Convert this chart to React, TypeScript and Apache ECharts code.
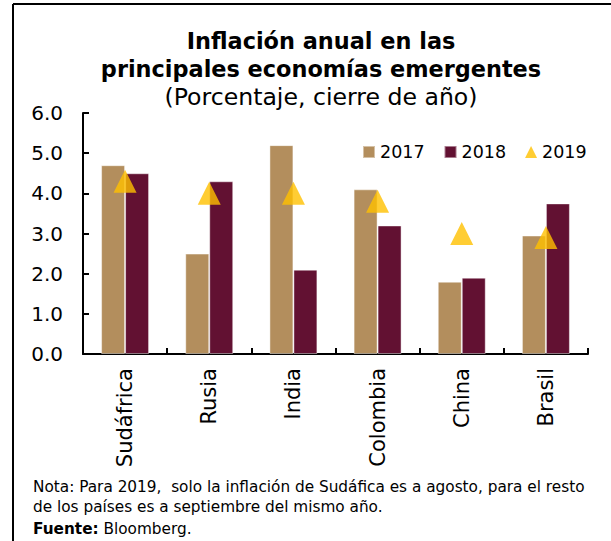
import React, { useEffect, useRef } from "react";
import * as echarts from "echarts";

const categories = ["Sudáfrica", "Rusia", "India", "Colombia", "China", "Brasil"];
const values2017 = [4.7, 2.5, 5.2, 4.1, 1.8, 2.95];
const values2018 = [4.5, 4.3, 2.1, 3.2, 1.9, 3.75];
const values2019 = [4.3, 4.0, 4.0, 3.8, 3.0, 2.9];
const seriesNames = ["2017", "2018", "2019"];
const titleText = "Inflación anual en las\nprincipales economías emergentes";
const subtitleText = "(Porcentaje, cierre de año)";
const noteLines = [
  "Nota: Para 2019,  solo la inflación de Sudáfica es a agosto, para el resto",
  "de los países es a septiembre del mismo año.",
];

const FONT = "DejaVu Sans";
const C2017 = "#B38E5D";
const C2018 = "#621132";
const C2019 = "#FFC000";

export default function App() {
  const ref = useRef<HTMLDivElement>(null);
  useEffect(() => {
    if (!ref.current) return;
    const chart = echarts.init(ref.current, undefined, { renderer: "svg" });
    chart.setOption({
      animation: false,
      backgroundColor: "#ffffff",
      textStyle: { fontFamily: FONT, color: "#000" },
      title: {
        text: titleText,
        subtext: subtitleText,
        left: 316,
        top: 22,
        textAlign: "center",
        itemGap: 0,
        textStyle: { fontFamily: FONT, fontSize: 22.4, fontWeight: "bold", color: "#000", lineHeight: 28 },
        subtextStyle: { fontFamily: FONT, fontSize: 23.6, color: "#000", lineHeight: 28 },
      },
      legend: {
        left: 357,
        top: 138,
        itemWidth: 12,
        itemHeight: 12,
        itemGap: 19,
        textStyle: { fontFamily: FONT, fontSize: 17.5, color: "#000", padding: [0, 0, 0, 0] },
        data: [
          { name: seriesNames[0], icon: "rect" },
          { name: seriesNames[1], icon: "rect" },
          { name: seriesNames[2], icon: "triangle" },
        ],
      },
      grid: { left: 83, right: 23, top: 113, bottom: 187, containLabel: false },
      xAxis: {
        type: "category",
        data: categories,
        axisLine: { lineStyle: { color: "#000", width: 2 } },
        axisTick: { show: true, inside: true, length: 6, lineStyle: { color: "#000", width: 2 } },
        axisLabel: { rotate: 90, fontSize: 21, color: "#000", fontFamily: FONT, margin: 14 },
      },
      yAxis: {
        type: "value",
        min: 0,
        max: 6,
        interval: 1,
        axisLine: { show: true, lineStyle: { color: "#000", width: 2 } },
        axisTick: { show: true, inside: true, length: 6, lineStyle: { color: "#000", width: 2 } },
        splitLine: { show: false },
        axisLabel: {
          fontSize: 20,
          color: "#000",
          fontFamily: FONT,
          margin: 20,
          formatter: (v: number) => v.toFixed(1),
        },
      },
      series: [
        {
          name: seriesNames[0],
          type: "bar",
          data: values2017,
          barGap: "0%",
          barCategoryGap: "43%",
          itemStyle: { color: C2017, borderColor: "rgba(255,255,255,0.45)", borderWidth: 1 },
        },
        {
          name: seriesNames[1],
          type: "bar",
          data: values2018,
          itemStyle: { color: C2018, borderColor: "rgba(255,255,255,0.45)", borderWidth: 1 },
        },
        {
          name: seriesNames[2],
          type: "scatter",
          data: values2019,
          symbol: "triangle",
          symbolSize: 23,
          z: 5,
          itemStyle: { color: C2019 },
        },
      ],
      graphic: [
        { type: "line", shape: { x1: 13, y1: 4, x2: 611, y2: 4 }, style: { stroke: "#000", lineWidth: 2 } },
        { type: "line", shape: { x1: 13, y1: 4, x2: 13, y2: 541 }, style: { stroke: "#000", lineWidth: 2 } },
        {
          type: "text",
          left: 33,
          top: 479,
          style: { text: noteLines[0], fontFamily: FONT, fontSize: 15.3, fill: "#000" },
        },
        {
          type: "text",
          left: 33,
          top: 499.5,
          style: { text: noteLines[1], fontFamily: FONT, fontSize: 15.3, fill: "#000" },
        },
        {
          type: "text",
          left: 33,
          top: 521,
          style: {
            text: "{b|Fuente:} Bloomberg.",
            fontFamily: FONT,
            fontSize: 15.3,
            fill: "#000",
            rich: { b: { fontWeight: "bold", fontFamily: FONT, fontSize: 15.3, fill: "#000" } },
          },
        },
      ],
    });
    return () => chart.dispose();
  }, []);
  return (
    <div
      ref={ref}
      style={{ position: "absolute", left: 0, top: 0, width: 611, height: 541 }}
    />
  );
}
